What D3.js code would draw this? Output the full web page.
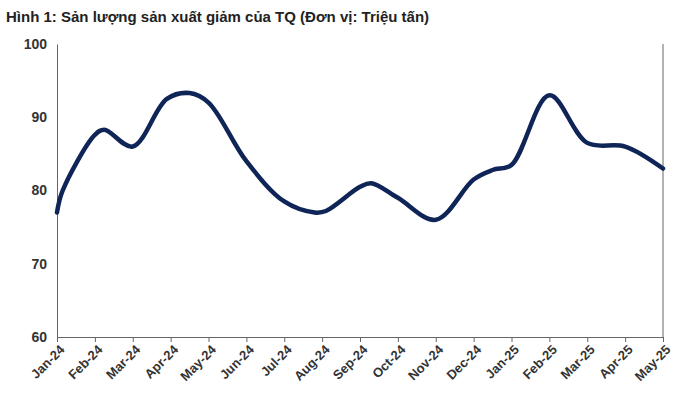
<!DOCTYPE html>
<html><head><meta charset="utf-8">
<script src="https://cdn.jsdelivr.net/npm/d3@7"></script>
<style>body{margin:0;background:#fff}</style></head>
<body><svg id="c" width="675" height="410"></svg>
<script>
const months = ["Jan-24","Feb-24","Mar-24","Apr-24","May-24","Jun-24","Jul-24","Aug-24","Sep-24","Oct-24","Nov-24","Dec-24","Jan-25","Feb-25","Mar-25","Apr-25","May-25"];
const xPos = [0,0.15,1,1.25,2,2.9,3.5,4,5,6,6.8,7.1,8,8.3,9,10,11,11.5,12,13,14,15,16];
const values = [77,80,87.6,88.3,86,92.5,93.3,92,84,78.5,77,77.2,80.5,81,79,76,81.5,82.8,83.5,93,86.5,86,83];
const yTicks = [60,70,80,90,100];
const svg = d3.select("#c");
const x = d3.scaleLinear().domain([0,16]).range([57,663]);
const y = d3.scaleLinear().domain([60,100]).range([337,44]);
svg.append("text").attr("x",6).attr("y",22).attr("font-family","Liberation Sans, Arial").attr("font-weight","bold").attr("font-size",15).attr("fill","#222").text("Hình 1: Sản lượng sản xuất giảm của TQ (Đơn vị: Triệu tấn)");
const ya = svg.append("g").attr("transform","translate(57,0)").call(d3.axisLeft(y).tickValues(yTicks).tickSize(0).tickPadding(10));
ya.selectAll("text").attr("font-family","Liberation Sans, Arial").attr("font-weight","bold").attr("font-size",14).attr("fill","#333");
ya.select(".domain").attr("stroke","#666");
const xa = svg.append("g").attr("transform","translate(0,337)").call(d3.axisBottom(x).tickValues(d3.range(17)).tickFormat(i=>months[i]).tickSize(5));
xa.select(".domain").attr("stroke","#666"); xa.selectAll("line").attr("stroke","#666");
xa.selectAll("text").attr("font-family","Liberation Sans, Arial").attr("font-weight","bold").attr("font-size",13).attr("fill","#333")
  .attr("text-anchor","end").attr("transform","rotate(-45)").attr("dx","-0.3em").attr("dy","0.55em");
svg.append("line").attr("x1",663).attr("x2",663).attr("y1",44).attr("y2",337).attr("stroke","#666");
const pts = xPos.map((p,i)=>[p,values[i]]);
svg.append("path").datum(pts).attr("fill","none").attr("stroke","#0f2557").attr("stroke-width",4.5).attr("stroke-linecap","round")
  .attr("d",d3.line().x(d=>x(d[0])).y(d=>y(d[1])).curve(d3.curveCatmullRom.alpha(0.5)));
</script></body></html>
